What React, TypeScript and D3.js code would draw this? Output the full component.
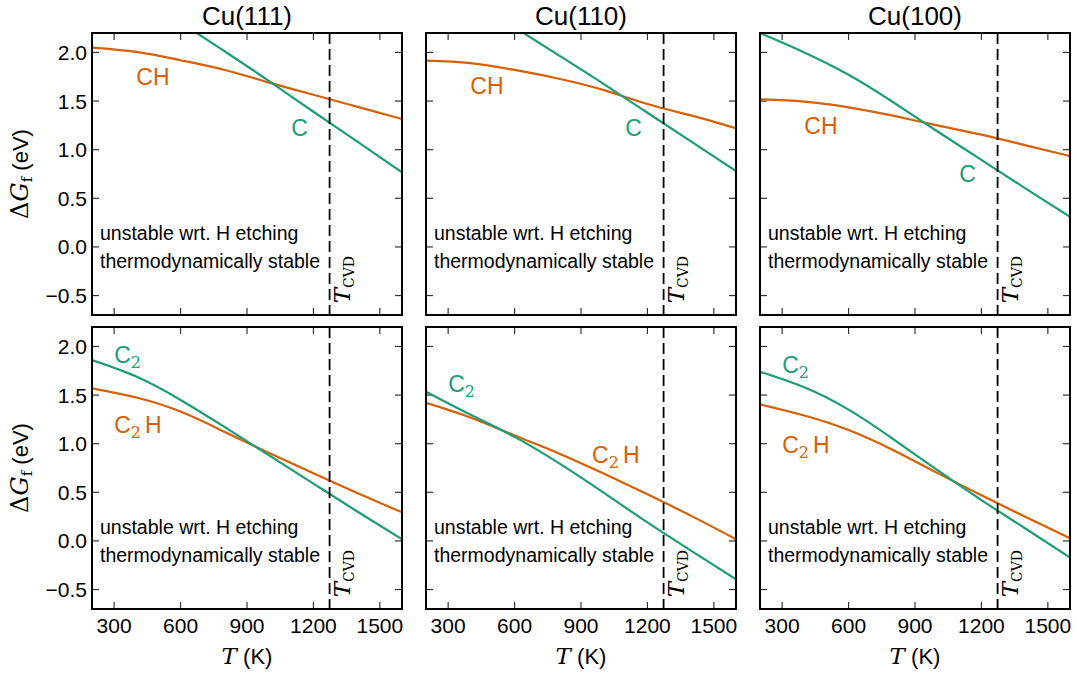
import React from 'react';
import * as d3 from 'd3';

// ---------- data ----------
const temps = [200, 400, 600, 800, 1000, 1200, 1400, 1600];
const surfaces = ['Cu(111)', 'Cu(110)', 'Cu(100)'];

// top row: C and CH
const cu111_C = [2.9, 2.62, 2.31, 2.01, 1.705, 1.39, 1.08, 0.767];
const cu111_CH = [2.05, 2.005, 1.92, 1.82, 1.69, 1.565, 1.44, 1.315];
const cu110_C = [2.8, 2.55, 2.26, 1.97, 1.68, 1.38, 1.08, 0.781];
const cu110_CH = [1.915, 1.89, 1.82, 1.73, 1.615, 1.47, 1.35, 1.22];
const cu100_C = [2.2, 2.0, 1.77, 1.49, 1.19, 0.895, 0.6, 0.31];
const cu100_CH = [1.518, 1.495, 1.436, 1.35, 1.25, 1.155, 1.045, 0.935];

// bottom row: C2 and C2H
const cu111_C2 = [1.86, 1.69, 1.45, 1.17, 0.88, 0.59, 0.3, 0.017];
const cu111_C2H = [1.57, 1.475, 1.33, 1.12, 0.905, 0.695, 0.49, 0.294];
const cu110_C2 = [1.535, 1.3, 1.07, 0.8, 0.5, 0.19, -0.105, -0.395];
const cu110_C2H = [1.42, 1.27, 1.085, 0.9, 0.695, 0.48, 0.255, 0.017];
const cu100_C2 = [1.74, 1.58, 1.35, 1.05, 0.73, 0.42, 0.125, -0.172];
const cu100_C2H = [1.405, 1.29, 1.14, 0.935, 0.7, 0.47, 0.245, 0.027];

const xTicks = [300, 600, 900, 1200, 1500];
const yTicks = [-0.5, 0, 0.5, 1.0, 1.5, 2.0];
const xDomain = [200, 1600];
const yDomain = [-0.7, 2.2];
const T_CVD = 1273;

// label anchors (data coordinates) for each panel
const topLabels = [
  { ch: [400, 1.665], c: [1100, 1.141] },
  { ch: [400, 1.573], c: [1100, 1.141] },
  { ch: [400, 1.161], c: [1100, 0.668] },
];
const bottomLabels = [
  { c2: [300, 1.833], c2h: [300, 1.11] },
  { c2: [300, 1.532], c2h: [950, 0.801] },
  { c2: [300, 1.727], c2h: [300, 0.904] },
];

// ---------- style ----------
const GREEN = '#1b9e77';
const ORANGE = '#d95f02';
const SANS = "'Liberation Sans', Arial, Helvetica, sans-serif";
const SERIF = "'DejaVu Serif', 'Liberation Serif', serif";
const W = 1077, H = 675;
const marginLeft = 92, panelW = 310, gapX = 24;
const tops = [33, 327], panelH = 282;

const x = d3.scaleLinear().domain(xDomain).range([0, panelW]);
const y = d3.scaleLinear().domain(yDomain).range([panelH, 0]);
const line = d3
  .line<number>()
  .x((_, i) => x(temps[i]))
  .y((d) => y(d))
  .curve(d3.curveNatural);

const fmt = (v: number) => (v < 0 ? '\u2212' : '') + Math.abs(v).toFixed(1);

function Label({ pos, color, base, sub, tail }: any) {
  return (
    <text x={x(pos[0])} y={y(pos[1])} fill={color} fontFamily={SANS} fontSize={23}>
      {base}
      {sub && (
        <tspan fontFamily={SERIF} fontSize={16} dy={5}>
          {sub}
        </tspan>
      )}
      {tail && (
        <tspan dx={4} dy={sub ? -5 : 0}>
          {tail}
        </tspan>
      )}
    </text>
  );
}

function Panel({ col, row }: { col: number; row: number }) {
  const left = marginLeft + col * (panelW + gapX);
  const top = tops[row];
  const id = `clip-${row}-${col}`;
  const series =
    row === 0
      ? [
          [cu111_CH, cu110_CH, cu100_CH][col],
          [cu111_C, cu110_C, cu100_C][col],
        ]
      : [
          [cu111_C2H, cu110_C2H, cu100_C2H][col],
          [cu111_C2, cu110_C2, cu100_C2][col],
        ];
  const xc = x(T_CVD);
  return (
    <g transform={`translate(${left},${top})`}>
      <defs>
        <clipPath id={id}>
          <rect x={0} y={0} width={panelW} height={panelH} />
        </clipPath>
      </defs>
      {row === 0 && (
        <text x={panelW / 2} y={-8} textAnchor="middle" fontFamily={SANS} fontSize={26}>
          {surfaces[col]}
        </text>
      )}
      {/* ticks */}
      {xTicks.map((t) => (
        <g key={'x' + t}>
          <line x1={x(t)} x2={x(t)} y1={panelH} y2={panelH - 7} stroke="#333" strokeWidth={1.2} />
          <line x1={x(t)} x2={x(t)} y1={0} y2={7} stroke="#333" strokeWidth={1.2} />
          {row === 1 && (
            <text x={x(t)} y={panelH + 24} textAnchor="middle" fontFamily={SANS} fontSize={21}>
              {t}
            </text>
          )}
        </g>
      ))}
      {yTicks.map((t) => (
        <g key={'y' + t}>
          <line x1={0} x2={7} y1={y(t)} y2={y(t)} stroke="#333" strokeWidth={1.2} />
          <line x1={panelW} x2={panelW - 7} y1={y(t)} y2={y(t)} stroke="#333" strokeWidth={1.2} />
          {col === 0 && (
            <text x={-5} y={y(t)} dy="0.36em" textAnchor="end" fontFamily={SANS} fontSize={21}>
              {fmt(t)}
            </text>
          )}
        </g>
      ))}
      {/* curves */}
      <g clipPath={`url(#${id})`}>
        <path d={line(series[0]) || ''} fill="none" stroke={ORANGE} strokeWidth={2.2} />
        <path d={line(series[1]) || ''} fill="none" stroke={GREEN} strokeWidth={2.2} />
      </g>
      {/* T_CVD */}
      <line x1={xc} x2={xc} y1={0} y2={panelH} stroke="#000" strokeWidth={1.8} strokeDasharray="11,5" />
      <text
        transform={`translate(${xc + 20},${y(-0.58)}) rotate(-90)`}
        fontFamily={SERIF}
        fontSize={23}
        fill="#000"
      >
        <tspan fontStyle="italic">T</tspan>
        <tspan fontSize={14} dy={4}>
          CVD
        </tspan>
      </text>
      {/* stability annotations */}
      <text x={8} y={y(0) - 7} fontFamily={SANS} fontSize={19.5}>
        unstable wrt. H etching
      </text>
      <text x={8} y={y(0) + 21} fontFamily={SANS} fontSize={19.5}>
        thermodynamically stable
      </text>
      {/* curve labels */}
      {row === 0 ? (
        <>
          <Label pos={topLabels[col].ch} color={ORANGE} base="CH" />
          <Label pos={topLabels[col].c} color={GREEN} base="C" />
        </>
      ) : (
        <>
          <Label pos={bottomLabels[col].c2} color={GREEN} base="C" sub="2" />
          <Label pos={bottomLabels[col].c2h} color={ORANGE} base="C" sub="2" tail="H" />
        </>
      )}
      {/* x label */}
      {row === 1 && (
        <text x={panelW / 2} y={panelH + 55} textAnchor="middle" fontFamily={SANS} fontSize={22}>
          <tspan fontFamily={SERIF} fontStyle="italic" fontSize={23}>
            T
          </tspan>
          <tspan> (K)</tspan>
        </text>
      )}
      {/* y label */}
      {col === 0 && (
        <text
          transform={`translate(${28 - marginLeft},${panelH / 2}) rotate(-90)`}
          textAnchor="middle"
          fontFamily={SANS}
          fontSize={22}
        >
          <tspan fontFamily={SERIF} fontSize={24}>
            Δ
          </tspan>
          <tspan fontFamily={SERIF} fontStyle="italic" fontSize={24}>
            G
          </tspan>
          <tspan fontFamily={SERIF} fontSize={15} dy={4}>
            f
          </tspan>
          <tspan dy={-4}> (eV)</tspan>
        </text>
      )}
      {/* frame */}
      <rect x={0} y={0} width={panelW} height={panelH} fill="none" stroke="#000" strokeWidth={2} />
    </g>
  );
}

export default function App() {
  return (
    <svg
      width={W}
      height={H}
      style={{ position: 'absolute', left: 0, top: 0, background: '#fff' }}
      xmlns="http://www.w3.org/2000/svg"
    >
      <rect width={W} height={H} fill="#fff" />
      {[0, 1].map((row) =>
        [0, 1, 2].map((col) => <Panel key={`${row}-${col}`} row={row} col={col} />)
      )}
    </svg>
  );
}
